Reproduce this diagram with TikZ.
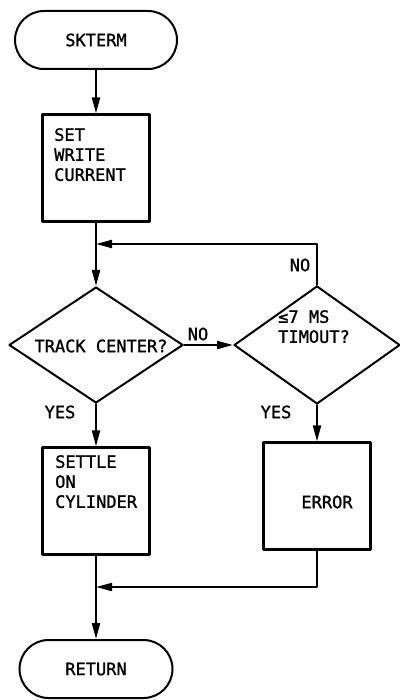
\documentclass[tikz,border=0pt]{standalone}
\usepackage{fontspec}
\setmainfont{DejaVu Sans Mono}[FakeBold=1.2]
\usetikzlibrary{shapes.geometric,arrows.meta}
\tikzset{
  term/.style={draw,line width=2pt,rounded corners=29pt,minimum height=58pt},
  proc/.style={draw,line width=2.2pt,minimum width=107pt,minimum height=107pt},
  decide/.style={draw,diamond,line width=2pt,inner sep=0pt},
  txt/.style={inner sep=0pt,align=left},
  flow/.style={line width=2pt,-{Triangle[length=16pt,width=8pt]}}
}
\begin{document}
\begin{tikzpicture}[x=1pt,y=1pt,line cap=round,line join=round,font=\fontsize{17}{20}\selectfont]
  \useasboundingbox (0,0) rectangle (399,-700);
  \def\xL{96}
  \def\xR{317}

  % Terminals and boxes
  \node[term,minimum width=162pt] (skterm) at (\xL,-40) {SKTERM};
  \node[proc] (setwc) at (\xL,-168) {};
  \node[decide,minimum width=174pt,minimum height=116pt] (track) at (\xL,-345) {};
  \node[decide,minimum width=166pt,minimum height=118pt] (timout) at (\xR,-345) {};
  \node[proc] (settle) at (\xL,-501) {};
  \node[proc] (error) at (\xR,-496) {};
  \node[term,minimum width=153pt] (return) at (\xL,-669) {RETURN};

  % Texts in boxes
  \node[txt,anchor=north west] (setlbl) at (54,-128) {SET\\WRITE\\CURRENT};
  \node[txt] (tracklbl) at (101,-346) {TRACK CENTER?};
  \node[txt,anchor=north west] (timlbl) at (278,-310) {≤7 MS\\TIMOUT?};
  \node[txt,anchor=north west] (settlelbl) at (55,-455) {SETTLE\\ON\\CYLINDER};
  \node[txt] (errlbl) at (327,-502) {ERROR};

  % Branch labels
  \node[txt] (noA) at (300,-265) {NO};
  \node[txt] (noB) at (198,-334) {NO};
  \node[txt] (yesA) at (60,-412) {YES};
  \node[txt] (yesB) at (276,-412) {YES};

  % Flow lines
  \coordinate (joinA) at (\xL,-244);
  \coordinate (joinB) at (\xL,-587);
  \draw[flow] (skterm) -- (setwc);
  \draw[flow] (setwc) -- (track);
  \draw[flow] (track) -- (timout);
  \draw[flow] (timout.north) |- (joinA);
  \draw[flow] (track) -- (settle);
  \draw[flow] (timout) -- (error);
  \draw[flow] (error.south) |- (joinB);
  \draw[flow] (settle) -- (return);
\end{tikzpicture}
\end{document}
